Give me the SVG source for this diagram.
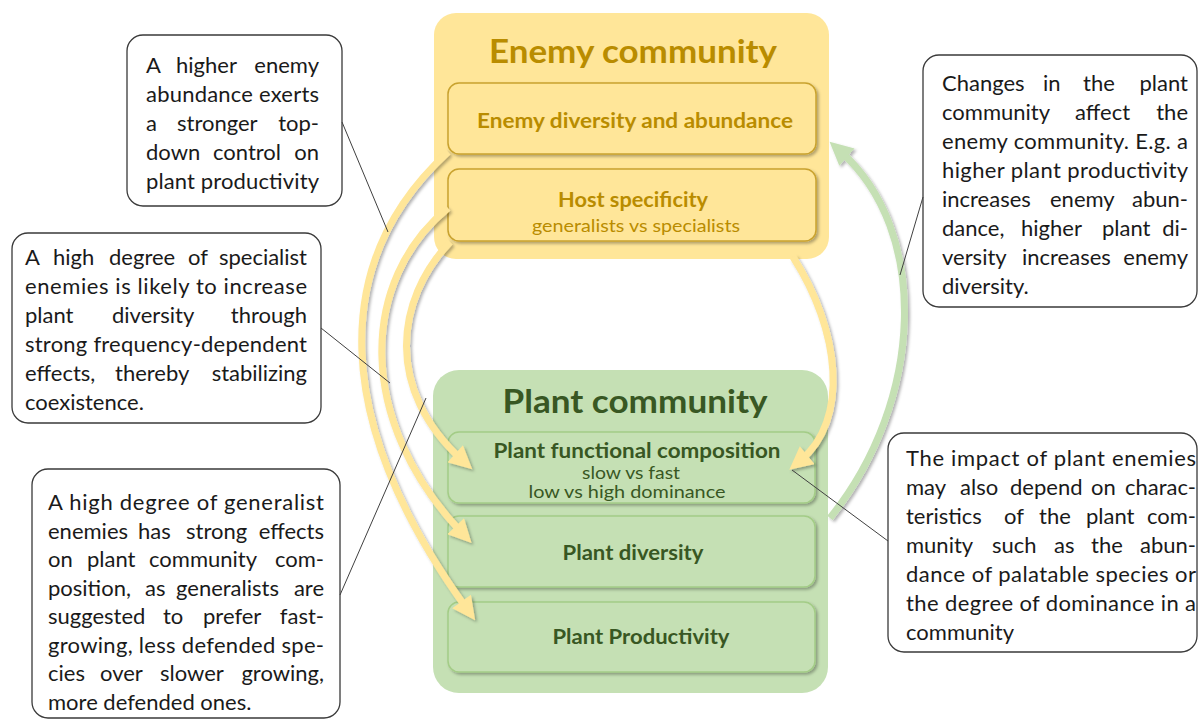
<svg xmlns="http://www.w3.org/2000/svg" width="1198" height="720" viewBox="0 0 1198 720">
<style>
text{font-family:Lato,"Liberation Sans",sans-serif}
.note rect{fill:#fff;stroke:#3a3a3a;stroke-width:1.3}
.t{font-size:22px;fill:#1a1a1a}
.e{text-anchor:end}
.c{text-anchor:middle}
.ey{fill:#B98C00;font-weight:bold}
.pg{fill:#385723;font-weight:bold}
.ein{fill:#FFE699;stroke:#C9A22E;stroke-width:1.5}
.pin{fill:#C5E0B4;stroke:#A3CC86;stroke-width:1.5}
.ya{fill:none;stroke:#FFE699;stroke-width:7;marker-end:url(#hy)}
.ga{fill:none;stroke:#C5E0B4;stroke-width:7;marker-end:url(#hg)}
.lead{stroke:#404040;stroke-width:1;fill:none}
</style>
<defs>
<filter id="sh" x="-20%" y="-20%" width="140%" height="140%">
<feDropShadow dx="2" dy="2" stdDeviation="1.6" flood-color="#000" flood-opacity="0.3"/>
</filter>
<marker id="hy" viewBox="0 0 10 10" refX="4" refY="5" markerWidth="3.4" markerHeight="3.3" orient="auto">
<path d="M0,0 L10,5 L0,10 z" fill="#FFE699"/>
</marker>
<marker id="hg" viewBox="0 0 10 10" refX="4" refY="5" markerWidth="3.4" markerHeight="3.3" orient="auto">
<path d="M0,0 L10,5 L0,10 z" fill="#C5E0B4"/>
</marker>
</defs>

<g id="enemy-community">
<rect x="434" y="13" width="395" height="246" rx="22" fill="#FFE699"/>
<text class="ey c" x="633" y="63" font-size="33" textLength="288" lengthAdjust="spacingAndGlyphs">Enemy community</text>
</g>
<g id="enemy-diversity">
<rect class="ein" x="448" y="83" width="368" height="71" rx="11" filter="url(#sh)"/>
<text class="ey c" x="635" y="128" font-size="21" textLength="316" lengthAdjust="spacingAndGlyphs">Enemy diversity and abundance</text>
</g>
<g id="host-specificity">
<rect class="ein" x="448" y="169" width="368" height="72" rx="11" filter="url(#sh)"/>
<text class="ey c" x="633" y="207" font-size="21" textLength="150" lengthAdjust="spacingAndGlyphs">Host specificity</text>
<text class="c" x="636" y="232" font-size="18" fill="#B98C00" textLength="208" lengthAdjust="spacingAndGlyphs">generalists vs specialists</text>
</g>

<g id="plant-community">
<rect x="433" y="370" width="395" height="323" rx="26" fill="#C5E0B4"/>
<text class="pg c" x="635" y="413" font-size="33" textLength="265" lengthAdjust="spacingAndGlyphs">Plant community</text>
</g>
<g id="plant-functional-composition">
<rect class="pin" x="448" y="432" width="367" height="71" rx="11" filter="url(#sh)"/>
<text class="pg c" x="637" y="458" font-size="21" textLength="287" lengthAdjust="spacingAndGlyphs">Plant functional composition</text>
<text class="c" x="631" y="479" font-size="17" fill="#385723" textLength="98" lengthAdjust="spacingAndGlyphs">slow vs fast</text>
<text class="c" x="627" y="498" font-size="17" fill="#385723" textLength="197" lengthAdjust="spacingAndGlyphs">low vs high dominance</text>
</g>
<g id="plant-diversity">
<rect class="pin" x="448" y="516" width="367" height="71" rx="11" filter="url(#sh)"/>
<text class="pg c" x="633" y="560" font-size="21" textLength="141" lengthAdjust="spacingAndGlyphs">Plant diversity</text>
</g>
<g id="plant-productivity">
<rect class="pin" x="448" y="602" width="367" height="70" rx="11" filter="url(#sh)"/>
<text class="pg c" x="641" y="644" font-size="21" textLength="177" lengthAdjust="spacingAndGlyphs">Plant Productivity</text>
</g>

<g id="connectors" filter="url(#sh)">
<path class="ya" d="M448,152 C330,260 330,420 467,609"/>
<path class="ya" d="M448,208 C360,280 355,420 462,533"/>
<path class="ya" d="M450,242 C395,300 385,390 462,460"/>
<path class="ya" d="M793,257 C840,330 850,420 800,461"/>
<path class="ga" d="M830,518 C925,400 930,230 840,151"/>
</g>

<g id="note-topdown" class="note">
<rect x="127" y="35" width="215" height="171" rx="16"/>
<text class="t" y="73"><tspan x="146">A</tspan><tspan x="176">higher</tspan></text>
<text class="t e" x="319" y="73">enemy</text>
<text class="t" x="146" y="102" textLength="173" lengthAdjust="spacing">abundance exerts</text>
<text class="t" y="131"><tspan x="146">a</tspan><tspan x="177">stronger</tspan></text>
<text class="t e" x="319" y="131">top-</text>
<text class="t" y="160"><tspan x="146">down</tspan><tspan x="213">control</tspan></text>
<text class="t e" x="319" y="160">on</text>
<text class="t" x="146" y="189" textLength="173" lengthAdjust="spacing">plant productivity</text>
</g>

<g id="note-specialist" class="note">
<rect x="12" y="233" width="309" height="190" rx="16"/>
<text class="t" y="265"><tspan x="25">A</tspan><tspan x="53">high</tspan><tspan x="109">degree</tspan><tspan x="188">of</tspan></text>
<text class="t e" x="307" y="265">specialist</text>
<text class="t" x="25" y="294" textLength="282" lengthAdjust="spacing">enemies is likely to increase</text>
<text class="t" y="323"><tspan x="25">plant</tspan><tspan x="112">diversity</tspan></text>
<text class="t e" x="307" y="323">through</text>
<text class="t" x="25" y="352" textLength="282" lengthAdjust="spacing">strong frequency-dependent</text>
<text class="t" y="381"><tspan x="25">effects,</tspan><tspan x="115">thereby</tspan></text>
<text class="t e" x="307" y="381">stabilizing</text>
<text class="t" x="25" y="410">coexistence.</text>
</g>

<g id="note-generalist" class="note">
<rect x="32" y="469" width="308" height="249" rx="16"/>
<text class="t" x="48" y="510" textLength="276" lengthAdjust="spacing">A high degree of generalist</text>
<text class="t" y="539"><tspan x="48">enemies</tspan><tspan x="138">has</tspan><tspan x="186">strong</tspan></text>
<text class="t e" x="324" y="539">effects</text>
<text class="t" y="567"><tspan x="48">on</tspan><tspan x="87">plant</tspan><tspan x="149">community</tspan></text>
<text class="t e" x="324" y="567">com-</text>
<text class="t" y="596"><tspan x="48">position,</tspan><tspan x="145">as</tspan><tspan x="176">generalists</tspan></text>
<text class="t e" x="324" y="596">are</text>
<text class="t" y="624"><tspan x="48">suggested</tspan><tspan x="163">to</tspan><tspan x="203">prefer</tspan></text>
<text class="t e" x="324" y="624">fast-</text>
<text class="t" x="48" y="653" textLength="276" lengthAdjust="spacing">growing, less defended spe-</text>
<text class="t" y="681"><tspan x="48">cies</tspan><tspan x="100">over</tspan><tspan x="160">slower</tspan></text>
<text class="t e" x="324" y="681">growing,</text>
<text class="t" x="48" y="710">more defended ones.</text>
</g>

<g id="note-feedback" class="note">
<rect x="923" y="55" width="274" height="252" rx="16"/>
<text class="t" y="91"><tspan x="942">Changes</tspan><tspan x="1043">in</tspan><tspan x="1083">the</tspan></text>
<text class="t e" x="1188" y="91">plant</text>
<text class="t" y="120"><tspan x="942">community</tspan><tspan x="1075">affect</tspan></text>
<text class="t e" x="1188" y="120">the</text>
<text class="t" x="942" y="149" textLength="246" lengthAdjust="spacing">enemy community. E.g. a</text>
<text class="t" x="942" y="178" textLength="246" lengthAdjust="spacing">higher plant productivity</text>
<text class="t" y="207"><tspan x="942">increases</tspan><tspan x="1050">enemy</tspan></text>
<text class="t e" x="1188" y="207">abun-</text>
<text class="t" y="236"><tspan x="942">dance,</tspan><tspan x="1021">higher</tspan><tspan x="1102">plant</tspan></text>
<text class="t e" x="1188" y="236">di-</text>
<text class="t" y="265"><tspan x="942">versity</tspan><tspan x="1022">increases</tspan></text>
<text class="t e" x="1188" y="265">enemy</text>
<text class="t" x="942" y="294">diversity.</text>
</g>

<g id="note-characteristics" class="note">
<rect x="888" y="433" width="309" height="219" rx="16"/>
<text class="t" x="906" y="466" textLength="290" lengthAdjust="spacing">The impact of plant enemies</text>
<text class="t" y="495"><tspan x="906">may</tspan><tspan x="960">also</tspan><tspan x="1010">depend</tspan><tspan x="1091">on</tspan></text>
<text class="t e" x="1196" y="495">charac-</text>
<text class="t" y="524"><tspan x="906">teristics</tspan><tspan x="1004">of</tspan><tspan x="1039">the</tspan><tspan x="1086">plant</tspan></text>
<text class="t e" x="1196" y="524">com-</text>
<text class="t" y="553"><tspan x="906">munity</tspan><tspan x="992">such</tspan><tspan x="1054">as</tspan><tspan x="1091">the</tspan></text>
<text class="t e" x="1196" y="553">abun-</text>
<text class="t" x="906" y="582" textLength="290" lengthAdjust="spacing">dance of palatable species or</text>
<text class="t" x="906" y="611" textLength="290" lengthAdjust="spacing">the degree of dominance in a</text>
<text class="t" x="906" y="640">community</text>
</g>

<g id="callout-lines">
<line class="lead" x1="342" y1="122" x2="388" y2="232"/>
<line class="lead" x1="321" y1="328" x2="390" y2="383"/>
<line class="lead" x1="340" y1="595" x2="426" y2="398"/>
<line class="lead" x1="923" y1="197" x2="900" y2="275"/>
<line class="lead" x1="792" y1="470" x2="888" y2="541"/>
</g>
</svg>
